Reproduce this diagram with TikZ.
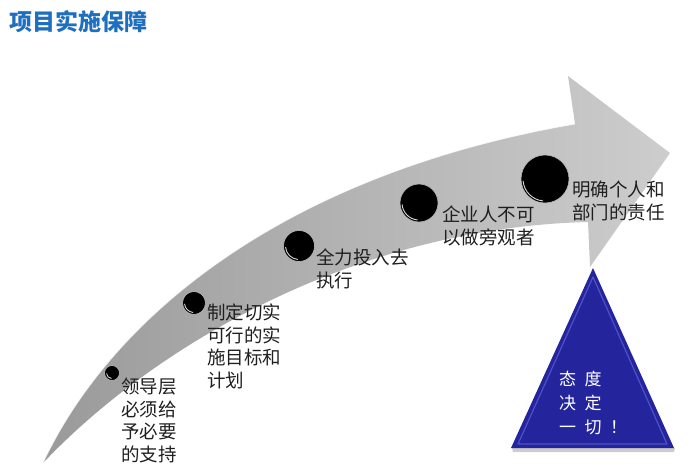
\documentclass[tikz,border=0pt]{standalone}
\usepackage{fontspec}
\setmainfont{Noto Sans CJK SC}
\usepackage{tikz}
\usetikzlibrary{positioning}
\definecolor{titleblue}{HTML}{1F6FC1}
\definecolor{arrowdark}{HTML}{9A9A9A}
\definecolor{arrowlight}{HTML}{CDCDCD}
\definecolor{tridark}{HTML}{24249C}
\definecolor{triedge}{HTML}{5050C8}
\tikzset{
  bead/.style   = {circle,fill=black,draw=gray!55,line width=0.6pt,
                   inner sep=0pt,minimum size=#1},
  lbl/.style    = {anchor=north west,inner sep=0pt,align=left,text=black!88,
                   font=\fontsize{18.5}{22.5}\selectfont},
  tritxt/.style = {anchor=north west,inner sep=0pt,align=left,text=white,
                   font=\fontsize{17}{24}\selectfont},
  ttl/.style    = {anchor=west,inner sep=0pt,text=titleblue,
                   font=\fontsize{23}{26}\selectfont\bfseries},
}

\begin{document}
\begin{tikzpicture}[x=1pt,y=-1pt]
  \useasboundingbox (0,0) rectangle (700,473);
  % Title
  \node[ttl] (title) at (9,22) {项目实施保障};

  % Curved arrow
  \shade[left color=arrowdark,right color=arrowlight]
    (43,463) .. controls (110,320) and (280,175) .. (575,124)
    -- (568,76) -- (670,153) -- (590,267) -- (588,222)
    .. controls (350,228) and (150,350) .. (43,463) -- cycle;
  \draw[white,line width=0.8pt,opacity=.7]
    (43,463) .. controls (110,320) and (280,175) .. (575,124);

  % Triangle
  \fill[gray!40] (512,448) -- (675,448) -- (674,452) -- (513,452) -- cycle;
  \fill[tridark] (593,268) -- (674,448) -- (511,448) -- cycle;
  \draw[triedge,line width=1.2pt,line join=round]
    (593,277) -- (667,444) -- (518,444) -- cycle;

  % Beads
  \node[bead=15] (s1) at (112,373) {};
  \node[bead=23] (s2) at (194,303) {};
  \node[bead=31] (s3) at (299,246) {};
  \node[bead=38] (s4) at (419,203) {};
  \node[bead=48] (s5) at (545,179) {};
  \foreach \n/\r in {s1/5.5,s2/9.5,s3/13.5,s4/17,s5/22}
    \draw[white,opacity=.85,line width=.9pt] (\n.center) ++(95:\r) arc (95:175:\r);

  % Labels
  \node[lbl] (t1) at (121,378) {领导层\\必须给\\予必要\\的支持};
  \node[lbl] (t2) at (207,304) {制定切实\\可行的实\\施目标和\\计划};
  \node[lbl] (t3) at (316,249) {全力投入去\\执行};
  \node[lbl] (t4) at (442,206) {企业人不可\\以做旁观者};
  \node[lbl] (t5) at (572,181) {明确个人和\\部门的责任};
  \node[tritxt] (motto) at (559,371)
    {态\hspace{.5em}度\\决\hspace{.5em}定\\一\hspace{.5em}切\hspace{.5em}！};
\end{tikzpicture}
\end{document}
